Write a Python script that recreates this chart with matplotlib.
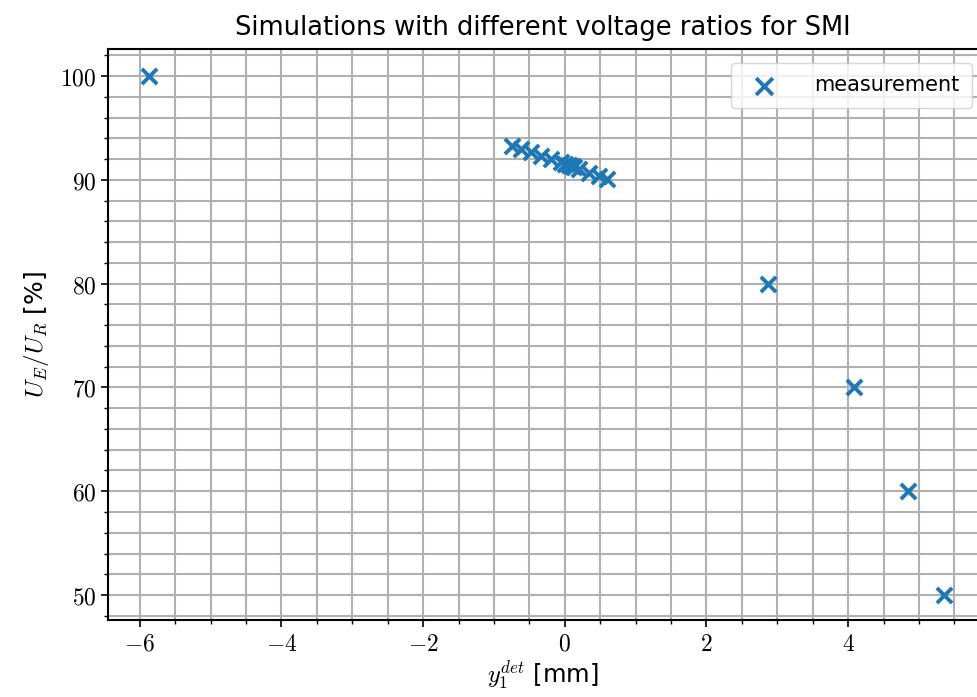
import matplotlib
matplotlib.use("Agg")
import matplotlib.pyplot as plt
from matplotlib.ticker import MultipleLocator, FuncFormatter

plt.rcParams['mathtext.fontset'] = 'cm'
plt.rcParams['font.family'] = ['DejaVu Sans']

y_det = [-5.87, -0.75, -0.62, -0.48, -0.34, -0.20, -0.06, 0.0, 0.06, 0.10, 0.13,
         0.20, 0.34, 0.48, 0.59, 2.87, 4.08, 4.85, 5.35]
ratio = [100.0, 93.3, 93.0, 92.7, 92.3, 92.0, 91.7, 91.5, 91.4, 91.3, 91.2,
         91.0, 90.7, 90.4, 90.1, 80.0, 70.0, 60.0, 50.0]

fig = plt.figure(figsize=(9.78, 6.97), dpi=100)
ax = fig.add_axes([0.1104, 0.1105, 0.8886, 0.8192])
ax.scatter(y_det, ratio, marker='x', s=120, linewidths=2.8, color='#1f77b4',
           label='measurement', zorder=3)

ax.set_xlim(-6.45, 5.82)
ax.set_ylim(47.6, 102.6)
ax.xaxis.set_major_locator(MultipleLocator(2))
ax.xaxis.set_minor_locator(MultipleLocator(0.5))
ax.yaxis.set_major_locator(MultipleLocator(10))
ax.yaxis.set_minor_locator(MultipleLocator(2))
fmt = FuncFormatter(lambda v, p: r'$%d$' % round(v))
ax.xaxis.set_major_formatter(fmt)
ax.yaxis.set_major_formatter(fmt)
ax.tick_params(axis='both', which='major', labelsize=17, length=5, width=1.2)
ax.tick_params(axis='both', which='minor', length=3, width=1.0)
ax.grid(True, which='both', color='#b0b0b0', linewidth=1.5)
ax.set_axisbelow(True)
for s in ax.spines.values():
    s.set_linewidth(1.5)
ax.spines['right'].set_visible(False)

ax.set_xlabel(r'$y_1^{det}$ [mm]', fontsize=17.5, labelpad=2)
ax.set_ylabel(r'$U_E/U_R$ [%]', fontsize=18, labelpad=6)
ax.set_title('Simulations with different voltage ratios for SMI', fontsize=18.5, pad=10)
ax.legend(loc='upper right', fontsize=15, borderpad=0.6, handletextpad=1.4,
          markerscale=1.1, borderaxespad=0.25, bbox_to_anchor=(1.0, 0.985))

fig.savefig('out.png', dpi=100)
